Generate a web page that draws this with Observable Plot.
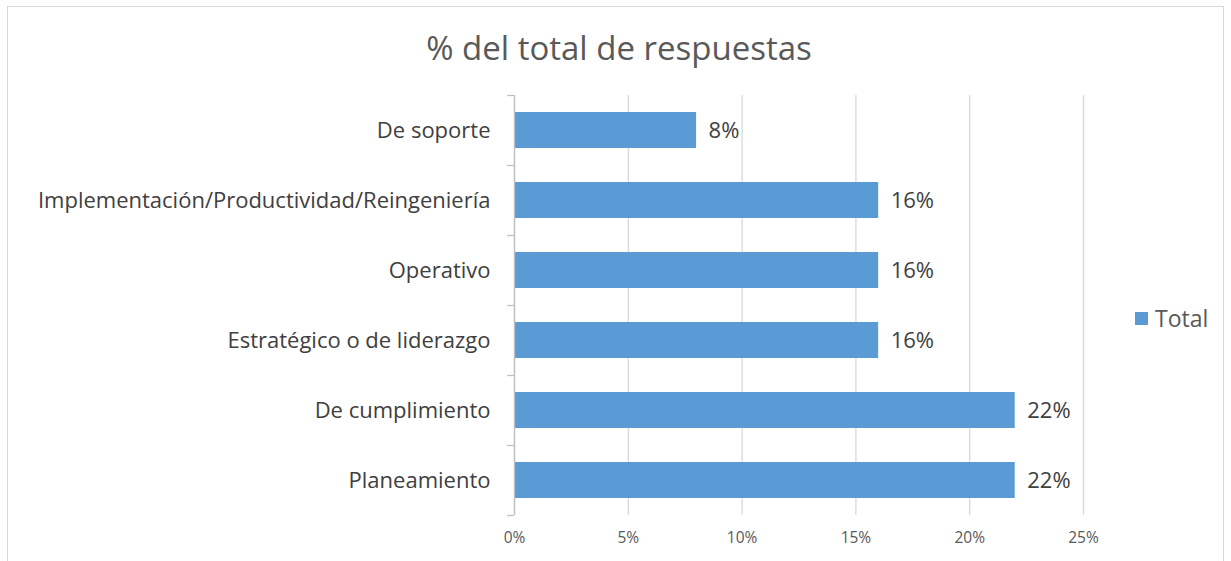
<!DOCTYPE html>
<html>
<head>
<meta charset="utf-8">
<script src="https://cdn.jsdelivr.net/npm/d3@7"></script>
<script src="https://cdn.jsdelivr.net/npm/@observablehq/plot@0.6"></script>
<style>
  html, body { margin: 0; padding: 0; background: #fff; }
  #wrap { position: relative; width: 1231px; height: 561px; overflow: hidden; font-family: "Open Sans", sans-serif; }
  #frame { position: absolute; left: 7px; top: 6px; width: 1217px; height: 560px; border: 1px solid #d9d9d9; box-sizing: border-box; }
  #title { position: absolute; left: 0; top: 0; width: 1238px; height: 80px; text-align: center; font-size: 33px; line-height: 96px; color: #595959; }
  #chart { position: absolute; left: 0; top: 80px; }
  #legend { position: absolute; left: 1135px; top: 302px; font-size: 23px; color: #595959; display: flex; align-items: center; }
  #legend .sw { width: 13px; height: 13px; background: #5B9BD5; margin-right: 7px; }
</style>
</head>
<body>
<div id="wrap">
  <div id="frame"></div>
  <div id="title">% del total de respuestas</div>
  <div id="chart"></div>
  <div id="legend"><span class="sw"></span><span id="legendLabel"></span></div>
</div>
<script>
const categories = ["De soporte", "Implementación/Productividad/Reingeniería", "Operativo", "Estratégico o de liderazgo", "De cumplimiento", "Planeamiento"];
const values = [0.08, 0.16, 0.16, 0.16, 0.22, 0.22];
const xTicks = [0, 0.05, 0.10, 0.15, 0.20, 0.25];
const seriesName = "Total";

document.getElementById("legendLabel").textContent = seriesName;
const data = categories.map((c, i) => ({category: c, value: values[i]}));
const pct = d3.format(".0%");
const barColor = "#5B9BD5";

const chart = Plot.plot({
  width: 1231,
  height: 481,
  marginLeft: 514,
  marginRight: 148,
  marginTop: 15,
  marginBottom: 46,
  style: {fontFamily: "'Open Sans', sans-serif", background: "transparent"},
  x: {domain: [0, 0.25], ticks: xTicks, tickFormat: pct, label: null},
  y: {domain: categories, paddingInner: 0.486, paddingOuter: 0.243, label: null},
  marks: [
    Plot.gridX(xTicks, {stroke: "#d9d9d9", strokeOpacity: 1, strokeWidth: 1.3}),
    Plot.barX(data, {x: "value", y: "category", fill: barColor}),
    Plot.ruleX([0], {stroke: "#bfbfbf", strokeWidth: 1.3}),
    Plot.ruleY(categories, {y: d => d, x1: -0.003, x2: 0, dy: -35, stroke: "#bfbfbf", strokeWidth: 1.3}),
    Plot.ruleY(categories.slice(-1), {y: d => d, x1: -0.003, x2: 0, dy: 35, stroke: "#bfbfbf", strokeWidth: 1.3}),
    Plot.axisX({ticks: xTicks, tickFormat: pct, tickSize: 0, tickPadding: 16, fontSize: 15.5, color: "#595959", label: null}),
    Plot.axisY({tickSize: 0, tickPadding: 24, fontSize: 22, color: "#404040", label: null}),
    Plot.text(data, {x: "value", y: "category", text: d => pct(d.value), dx: 12, textAnchor: "start", fontSize: 22, fill: "#404040"})
  ]
});
document.getElementById("chart").appendChild(chart);
</script>
</body>
</html>
